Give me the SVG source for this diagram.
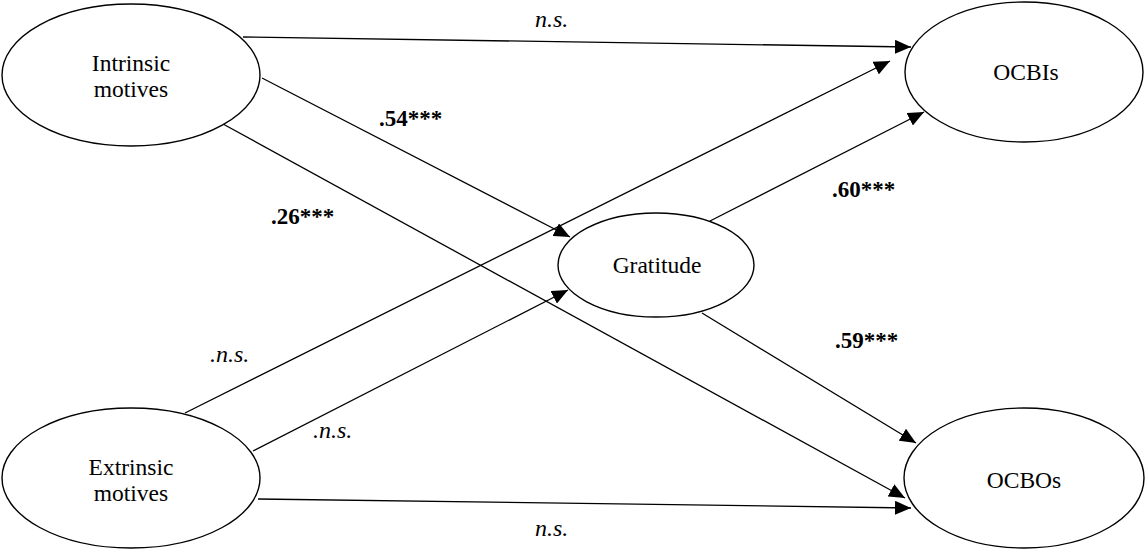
<svg xmlns="http://www.w3.org/2000/svg" width="1145" height="550" viewBox="0 0 1145 550">
<style>
.node{fill:#fff;stroke:#000;stroke-width:1.4}
.nt{font-family:"Liberation Serif","Times New Roman",serif;font-size:23.5px;fill:#000;text-anchor:middle}
.edge{stroke:#000;stroke-width:1.3;fill:none;marker-end:url(#ah)}
.ns{font-family:"Liberation Serif","Times New Roman",serif;font-size:24px;font-style:italic;fill:#000}
.coef{font-family:"Liberation Serif","Times New Roman",serif;font-size:23px;font-weight:bold;fill:#000}
</style>
<defs>
<marker id="ah" markerUnits="userSpaceOnUse" markerWidth="16" markerHeight="14" refX="16" refY="7" orient="auto">
<path d="M0,0 L16,7 L0,14 z" fill="#000"/>
</marker>
</defs>
<rect width="1145" height="550" fill="#fff"/>
<g id="connectors">
<line class="edge" x1="243" y1="37" x2="911" y2="47"/>
<line class="edge" x1="262" y1="78" x2="570" y2="237"/>
<line class="edge" x1="223" y1="124" x2="905" y2="498"/>
<line class="edge" x1="710" y1="221" x2="924" y2="112"/>
<line class="edge" x1="702" y1="313" x2="916" y2="443"/>
<line class="edge" x1="185" y1="413" x2="890" y2="61"/>
<line class="edge" x1="253" y1="451" x2="568" y2="290"/>
<line class="edge" x1="258" y1="499" x2="911" y2="508"/>
</g>
<g id="labels">
<text class="ns" x="535" y="27">n.s.</text>
<text class="coef" x="379" y="126">.54***</text>
<text class="coef" x="271" y="224">.26***</text>
<text class="coef" x="832" y="197">.60***</text>
<text class="coef" x="835" y="348">.59***</text>
<text class="ns" x="210" y="362">.n.s.</text>
<text class="ns" x="313" y="438">.n.s.</text>
<text class="ns" x="535" y="536">n.s.</text>
</g>
<g id="intrinsic">
<ellipse class="node" cx="131" cy="75" rx="129" ry="71"/>
<text class="nt" x="131" y="71">Intrinsic</text>
<text class="nt" x="131" y="97">motives</text>
</g>
<g id="extrinsic">
<ellipse class="node" cx="131" cy="478" rx="129" ry="70"/>
<text class="nt" x="131" y="475">Extrinsic</text>
<text class="nt" x="131" y="501">motives</text>
</g>
<g id="gratitude">
<ellipse class="node" cx="656" cy="265" rx="98" ry="52"/>
<text class="nt" x="657" y="273">Gratitude</text>
</g>
<g id="ocbis">
<ellipse class="node" cx="1024" cy="72" rx="119" ry="70"/>
<text class="nt" x="1026" y="80">OCBIs</text>
</g>
<g id="ocbos">
<ellipse class="node" cx="1024" cy="478" rx="120" ry="70"/>
<text class="nt" x="1024" y="488">OCBOs</text>
</g>
</svg>
